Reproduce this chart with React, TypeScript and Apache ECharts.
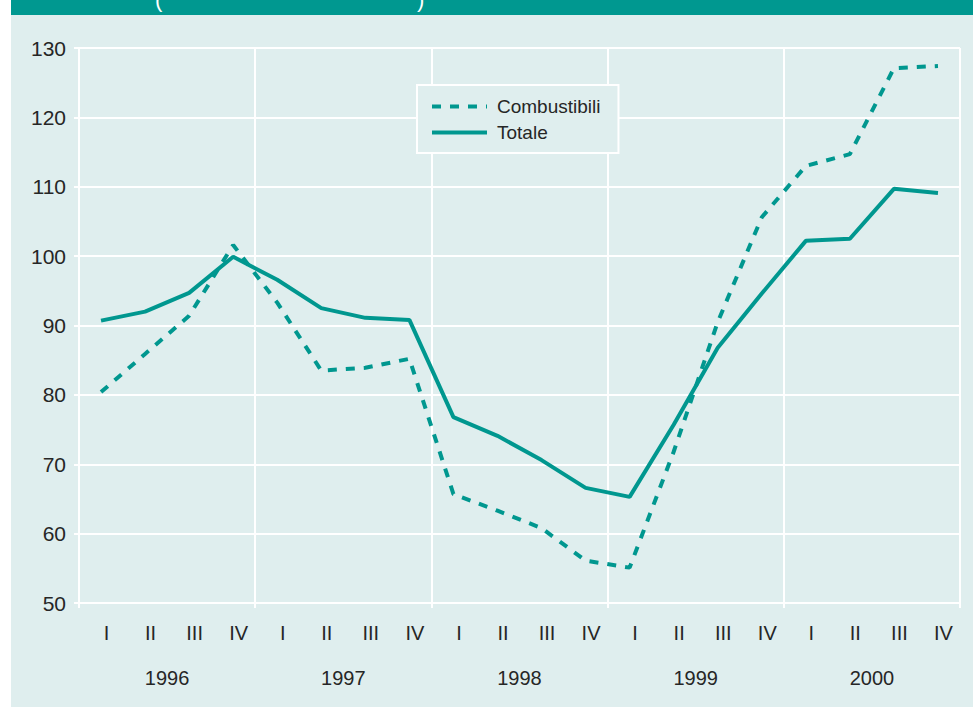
import React, { useEffect, useRef } from "react";
import * as echarts from "echarts";

const quarters = ["I","II","III","IV","I","II","III","IV","I","II","III","IV","I","II","III","IV","I","II","III","IV"];
const years = ["1996", "1997", "1998", "1999", "2000"];
const combustibili = [80.4, 85.9, 91.4, 101.6, 93.3, 83.5, 83.9, 85.2, 65.7, 63.3, 60.8, 56.1, 55.1, 71.8, 90.5, 105.6, 113.0, 114.7, 127.1, 127.4];
const totale = [90.7, 92.0, 94.7, 99.9, 96.6, 92.5, 91.1, 90.8, 76.8, 74.1, 70.6, 66.6, 65.3, 75.7, 86.8, 94.6, 102.2, 102.5, 109.7, 109.1];
const seriesNames = ["Combustibili", "Totale"];

const TEAL = "#00978f";
const TEXT = "#262626";
const FONT = "Liberation Sans, Arial, sans-serif";

export default function App() {
  const ref = useRef<HTMLDivElement>(null);
  useEffect(() => {
    const chart = echarts.init(ref.current!, null, { renderer: "svg" });
    chart.setOption({
      animation: false,
      backgroundColor: "#dfeeee",
      textStyle: { fontFamily: FONT },
      graphic: [
        { type: "rect", left: 0, top: 0, shape: { x: 0, y: 0, width: 11, height: 707 }, style: { fill: "#ffffff" } },
        { type: "rect", left: 11, top: 0, shape: { x: 0, y: 0, width: 962, height: 15 }, style: { fill: "#009890" } },
        { type: "text", x: 155, y: -12, style: { text: "(", fill: "#ffffff", font: "22px " + FONT } },
        { type: "text", x: 417, y: -12, style: { text: ")", fill: "#ffffff", font: "22px " + FONT } },
      ],
      grid: { left: 79, right: 13, top: 48, bottom: 104, containLabel: false },
      legend: {
        show: true,
        orient: "vertical",
        left: 417,
        top: 85,
        itemWidth: 55,
        itemHeight: 14,
        itemGap: 7,
        padding: [12, 18, 11, 13],
        backgroundColor: "#dfeeee",
        borderColor: "#ffffff",
        borderWidth: 2,
        itemStyle: { opacity: 0 },
        lineStyle: { width: 4 },
        textStyle: { color: TEXT, fontSize: 19, fontFamily: FONT, padding: [0, 0, 0, 5] },
        data: seriesNames,
      },
      xAxis: [
        {
          type: "category",
          data: quarters,
          boundaryGap: true,
          axisLine: { show: false },
          axisTick: { show: false },
          splitLine: { show: false },
          axisLabel: { color: TEXT, fontSize: 20, margin: 20, padding: [0, 0, 0, 11], fontFamily: FONT, interval: 0 },
        },
        {
          type: "category",
          data: years,
          boundaryGap: true,
          position: "bottom",
          axisLine: { show: true, lineStyle: { color: "#ffffff", width: 2 } },
          axisTick: { show: true, length: 5, lineStyle: { color: "#ffffff", width: 2 } },
          splitLine: { show: true, lineStyle: { color: "#ffffff", width: 2 } },
          axisLabel: { color: TEXT, fontSize: 20, margin: 65, fontFamily: FONT, interval: 0 },
        },
      ],
      yAxis: {
        type: "value",
        min: 50,
        max: 130,
        interval: 10,
        axisLine: { show: true, lineStyle: { color: "#ffffff", width: 2 } },
        axisTick: { show: true, length: 5, lineStyle: { color: "#ffffff", width: 2 } },
        splitLine: { show: true, lineStyle: { color: "#ffffff", width: 2 } },
        axisLabel: { color: TEXT, fontSize: 21, margin: 13, fontFamily: FONT },
      },
      series: [
        {
          name: seriesNames[0],
          type: "line",
          xAxisIndex: 0,
          data: combustibili,
          symbol: "none",
          lineStyle: { color: TEAL, width: 4, type: [9, 9] },
          itemStyle: { color: TEAL },
        },
        {
          name: seriesNames[1],
          type: "line",
          xAxisIndex: 0,
          data: totale,
          symbol: "none",
          lineStyle: { color: TEAL, width: 4 },
          itemStyle: { color: TEAL },
        },
      ],
    });
    return () => chart.dispose();
  }, []);
  return <div ref={ref} style={{ position: "fixed", left: 0, top: 0, width: 973, height: 707 }} />;
}
